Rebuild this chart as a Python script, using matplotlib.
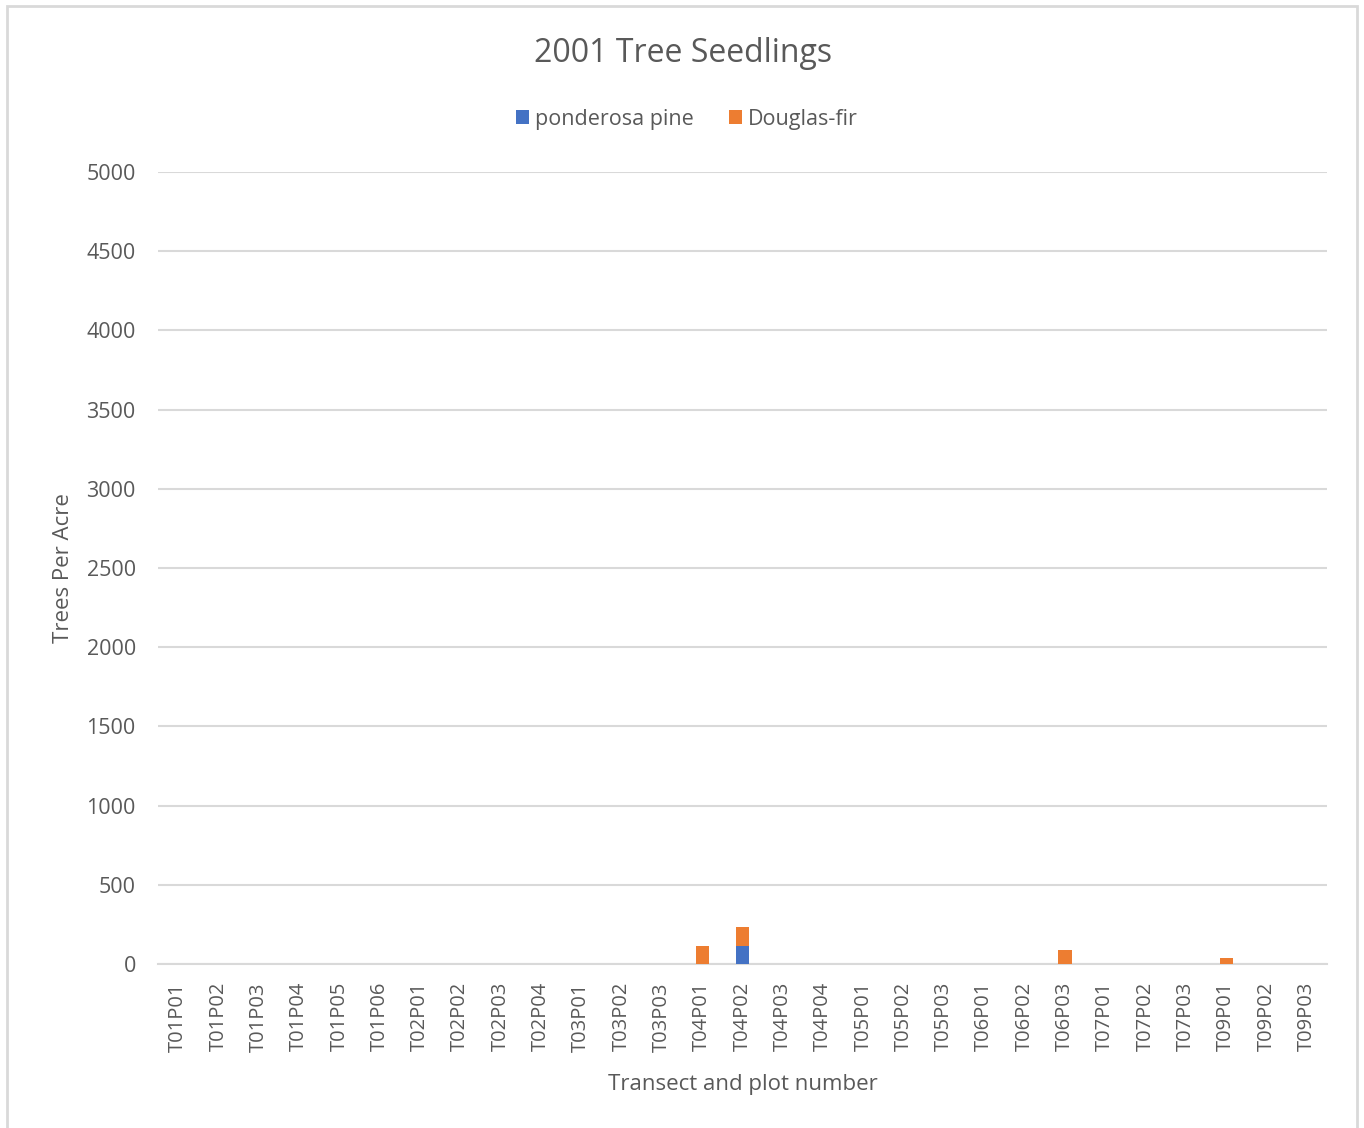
import matplotlib
matplotlib.use("Agg")
import matplotlib.pyplot as plt
from matplotlib.patches import Rectangle
import numpy as np

plots = ["T01P01","T01P02","T01P03","T01P04","T01P05","T01P06",
         "T02P01","T02P02","T02P03","T02P04",
         "T03P01","T03P02","T03P03",
         "T04P01","T04P02","T04P03","T04P04",
         "T05P01","T05P02","T05P03",
         "T06P01","T06P02","T06P03",
         "T07P01","T07P02","T07P03",
         "T09P01","T09P02","T09P03"]
ponderosa = [0]*29
ponderosa[14] = 114
douglas = [0]*29
douglas[13] = 114
douglas[14] = 120
douglas[22] = 88
douglas[26] = 38

plt.rcParams['font.family'] = ['Open Sans', 'DejaVu Sans']
fig = plt.figure(figsize=(13.64, 11.28), dpi=100)
ax = fig.add_axes([158/1364, 1-964/1128, (1327-158)/1364, (964-172)/1128])

x = np.arange(len(plots))
w = 0.33
blue = "#4472C4"
orange = "#ED7D31"
ax.bar(x, ponderosa, w, color=blue, label="ponderosa pine", zorder=3)
ax.bar(x, douglas, w, bottom=ponderosa, color=orange, label="Douglas-fir", zorder=3)

ax.set_xlim(-0.5, len(plots)-0.5)
ax.set_ylim(0, 5000)
ax.set_yticks(np.arange(0, 5001, 500))
ax.yaxis.grid(True, color="#D9D9D9", linewidth=1.5, zorder=0)
for s in ["top", "right", "left"]:
    ax.spines[s].set_visible(False)
ax.spines["bottom"].set_color("#D9D9D9")
ax.spines["bottom"].set_linewidth(1.5)
ax.tick_params(axis="y", length=0, pad=16, labelsize=15.5, labelcolor="#595959")
ax.tick_params(axis="x", length=0, pad=13, labelsize=14.5, labelcolor="#595959")
ax.set_xticks(x)
ax.set_xticklabels(plots, rotation=90)
ax.set_ylabel("Trees Per Acre", fontsize=16, color="#595959", labelpad=9)
ax.set_xlabel("Transect and plot number", fontsize=16, color="#595959", labelpad=16)

fig.text(683/1364, 1-53/1128, "2001 Tree Seedlings", ha="center", va="center",
         fontsize=23, color="#595959")
leg = fig.legend(loc="center", bbox_to_anchor=(687/1364, 1-119/1128), ncol=2, frameon=False,
                 fontsize=15.5, handlelength=0.6, handleheight=0.6, columnspacing=1.6,
                 handletextpad=0.3, labelcolor="#595959")

fig.add_artist(Rectangle((7/1364, -0.01), (1357-7)/1364, 1-6/1128+0.01, transform=fig.transFigure,
                         fill=False, edgecolor="#D9D9D9", linewidth=2))
fig.savefig("out.png", dpi=100)
